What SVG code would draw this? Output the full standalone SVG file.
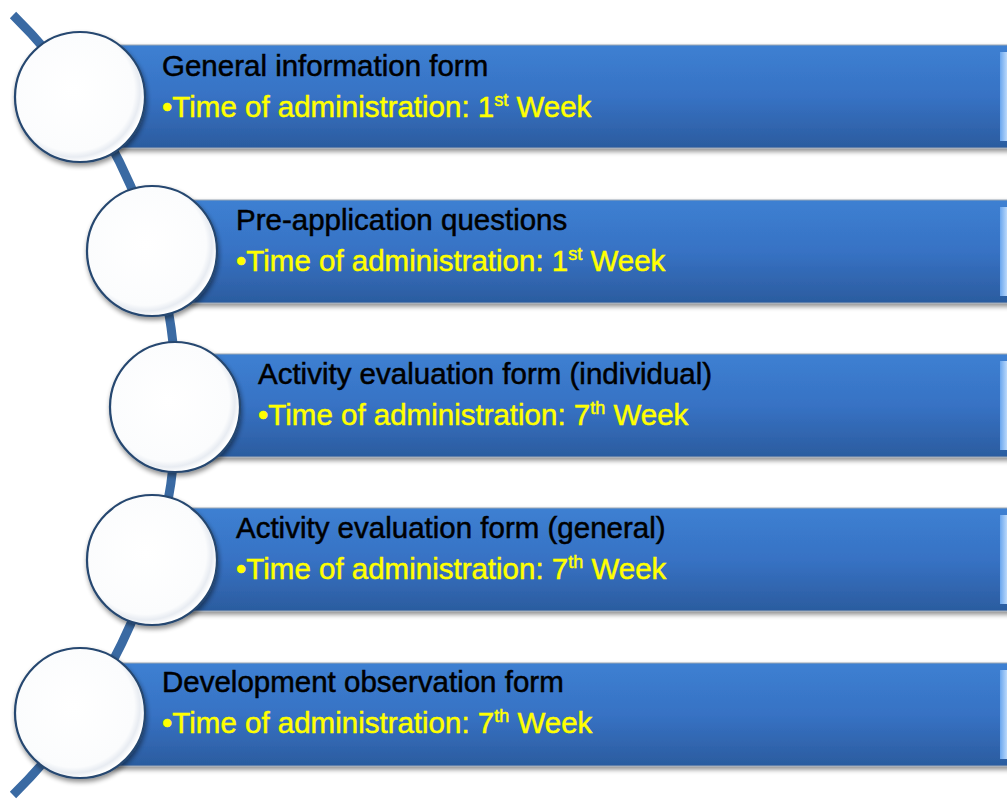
<svg xmlns="http://www.w3.org/2000/svg" width="1007" height="799" viewBox="0 0 1007 799">
<defs>
<linearGradient id="barG" x1="0" y1="0" x2="0" y2="1">
<stop offset="0" stop-color="#3d80d2"/>
<stop offset="0.5" stop-color="#3772c4"/>
<stop offset="1" stop-color="#2b5c9f"/>
</linearGradient>
<linearGradient id="edgeG" x1="0" y1="0" x2="1" y2="0">
<stop offset="0" stop-color="#6aa6ee"/>
<stop offset="1" stop-color="#b9d8fb"/>
</linearGradient>
<radialGradient id="circG" cx="0.45" cy="0.45" r="0.55">
<stop offset="0" stop-color="#ffffff"/>
<stop offset="0.85" stop-color="#fbfcfd"/>
<stop offset="0.93" stop-color="#e8ecf2"/>
<stop offset="1" stop-color="#ffffff"/>
</radialGradient>
<filter id="sh" x="-10%" y="-10%" width="125%" height="130%">
<feGaussianBlur in="SourceAlpha" stdDeviation="2.5"/>
<feOffset dx="1" dy="3" result="b"/>
<feComponentTransfer><feFuncA type="linear" slope="0.45"/></feComponentTransfer>
<feMerge><feMergeNode/><feMergeNode in="SourceGraphic"/></feMerge>
</filter>
</defs>
<style>
.bar{fill:url(#barG);stroke:#9aa6b4;stroke-width:1;filter:url(#sh)}
.edge{fill:url(#edgeG)}
.circ{fill:url(#circG);stroke:#25476f;stroke-width:2.2;filter:url(#sh)}
.t{font-family:"Liberation Sans",Arial,sans-serif;font-size:29.5px;fill:#000000;stroke:#000000;stroke-width:0.5}
.y{font-family:"Liberation Sans",Arial,sans-serif;font-size:29.5px;fill:#ffff00;stroke:#ffff00;stroke-width:0.5}
.sup{font-size:18px}
.conn{fill:none;stroke:#3a6aa3;stroke-width:9}
</style>
<g id="connectors">
<path class="conn" d="M13,15 A547,547 0 0 1 13,795"/>
</g>
<g id="node1">
<rect class="bar" x="110" y="45" width="910" height="103"/>
<rect class="edge" x="1000" y="52" width="7" height="89"/>
<circle class="circ" cx="80" cy="97" r="65"/>
<text class="t" x="162" y="76">General information form</text>
<text class="y" x="162" y="117">•Time of administration: 1<tspan class="sup" dy="-11">st</tspan><tspan dy="11"> Week</tspan></text>
</g>
<g id="node2">
<rect class="bar" x="182" y="200" width="838" height="103"/>
<rect class="edge" x="1000" y="207" width="7" height="89"/>
<circle class="circ" cx="152" cy="251" r="65"/>
<text class="t" x="236" y="230">Pre-application questions</text>
<text class="y" x="236" y="271">•Time of administration: 1<tspan class="sup" dy="-11">st</tspan><tspan dy="11"> Week</tspan></text>
</g>
<g id="node3">
<rect class="bar" x="205" y="354" width="815" height="103"/>
<rect class="edge" x="1000" y="361" width="7" height="89"/>
<circle class="circ" cx="175" cy="407" r="65"/>
<text class="t" x="258" y="384">Activity evaluation form (individual)</text>
<text class="y" x="258" y="425">•Time of administration: 7<tspan class="sup" dy="-11">th</tspan><tspan dy="11"> Week</tspan></text>
</g>
<g id="node4">
<rect class="bar" x="182" y="508" width="838" height="103"/>
<rect class="edge" x="1000" y="515" width="7" height="89"/>
<circle class="circ" cx="152" cy="560" r="65"/>
<text class="t" x="236" y="538">Activity evaluation form (general)</text>
<text class="y" x="236" y="579">•Time of administration: 7<tspan class="sup" dy="-11">th</tspan><tspan dy="11"> Week</tspan></text>
</g>
<g id="node5">
<rect class="bar" x="110" y="663" width="910" height="103"/>
<rect class="edge" x="1000" y="670" width="7" height="89"/>
<circle class="circ" cx="80" cy="713" r="65"/>
<text class="t" x="162" y="692">Development observation form</text>
<text class="y" x="162" y="733">•Time of administration: 7<tspan class="sup" dy="-11">th</tspan><tspan dy="11"> Week</tspan></text>
</g>
</svg>
